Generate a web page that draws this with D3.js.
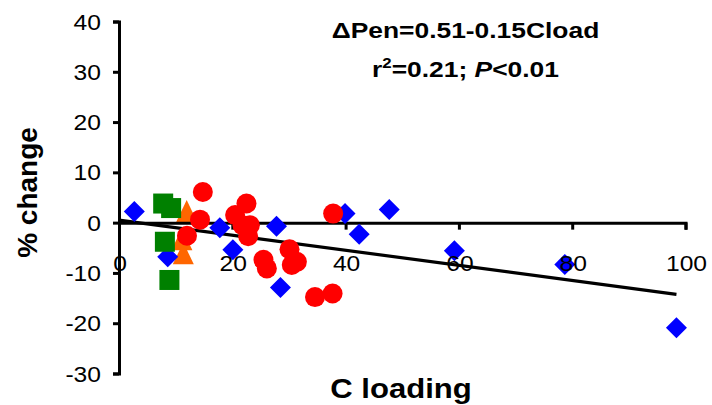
<!DOCTYPE html>
<html>
<head>
<meta charset="utf-8">
<script src="https://cdn.jsdelivr.net/npm/d3@7"></script>
<style>
  body { margin: 0; background: #fff; }
  svg { display: block; font-family: "Liberation Sans", Arial, sans-serif; }
</style>
</head>
<body>
<div id="chart"></div>
<script>
// C loading (x) vs % change (y), one array pair per marker series
const blueX = [2.7, 8.6, 17.8, 20.1, 27.8, 28.5, 39.9, 42.4, 47.7, 59.2, 78.7, 98.4];
const blueY = [2.2, -6.8, -1.0, -5.4, -0.7, -12.9, 1.8, -2.3, 2.6, -5.6, -8.3, -20.9];

const greenX = [7.8, 9.2, 8.1, 8.9];
const greenY = [3.8, 2.9, -3.8, -11.4];

const orangeX = [11.95, 11.1, 11.35];
const orangeY = [2.3, -3.3, -6.1];

const redX = [14.8, 14.3, 12.0, 22.5, 20.5, 21.8, 23.1, 22.8, 25.5, 26.1, 30.1, 31.4, 30.5, 34.6, 37.7, 37.8];
const redY = [6.1, 0.6, -2.6, 3.8, 1.5, -0.5, -0.5, -2.7, -7.4, -9.1, -5.3, -7.8, -8.4, -14.8, -14.1, 1.8];

// regression: dPen = 0.51 - 0.15 * Cload
const fitIntercept = 0.51;
const fitSlope = -0.15;
const fitRange = [0, 98.4];

const xTicks = [0, 20, 40, 60, 80, 100];
const yTicks = [-30, -20, -10, 0, 10, 20, 30, 40];

const width = 712, height = 405;
const margin = { top: 21.5, right: 26.5, bottom: 31.5, left: 119 };

const x = d3.scaleLinear().domain([0, 100]).range([margin.left, width - margin.right]);
const y = d3.scaleLinear().domain([-30, 40]).range([height - margin.bottom, margin.top]);

const svg = d3.select('#chart')
    .append('svg')
    .attr('width', width)
    .attr('height', height);

const zip = (xs, ys) => xs.map((v, i) => ({ x: v, y: ys[i] }));

// triangles sit underneath the axis lines in the original
const tri = 'M0,-11L10.5,11L-10.5,11Z';
svg.append('g')
    .selectAll('path')
    .data(zip(orangeX, orangeY))
    .join('path')
    .attr('d', tri)
    .attr('transform', d => `translate(${x(d.x)},${y(d.y)})`)
    .style('fill', '#FF6600');

// Y axis
const yAxis = svg.append('g')
    .attr('transform', `translate(${x(0)},0)`)
    .call(d3.axisLeft(y).tickValues(yTicks).tickSize(6).tickSizeOuter(6));

// X axis through y = 0
const xAxis = svg.append('g')
    .attr('transform', `translate(0,${y(0)})`)
    .call(d3.axisBottom(x).tickValues(xTicks).tickSize(7).tickSizeOuter(7));

[yAxis, xAxis].forEach(g => {
    g.select('.domain').attr('stroke', '#000').attr('stroke-width', 3);
    g.selectAll('.tick line').attr('stroke', '#000').attr('stroke-width', 3);
    g.selectAll('.tick text').remove();
});

// trend line
svg.append('line')
    .attr('x1', x(fitRange[0]))
    .attr('y1', y(fitIntercept + fitSlope * fitRange[0]))
    .attr('x2', x(fitRange[1]))
    .attr('y2', y(fitIntercept + fitSlope * fitRange[1]))
    .attr('stroke', '#000')
    .attr('stroke-width', 3.2);

// diamonds
const diamond = 'M0,-10.5L10.5,0L0,10.5L-10.5,0Z';
svg.append('g')
    .selectAll('path')
    .data(zip(blueX, blueY))
    .join('path')
    .attr('d', diamond)
    .attr('transform', d => `translate(${x(d.x)},${y(d.y)})`)
    .style('fill', '#0000FF');

// squares
svg.append('g')
    .selectAll('rect')
    .data(zip(greenX, greenY))
    .join('rect')
    .attr('x', d => x(d.x) - 10)
    .attr('y', d => y(d.y) - 10)
    .attr('width', 20)
    .attr('height', 20)
    .style('fill', '#008000');

// circles
svg.append('g')
    .selectAll('circle')
    .data(zip(redX, redY))
    .join('circle')
    .attr('cx', d => x(d.x))
    .attr('cy', d => y(d.y))
    .attr('r', 10)
    .style('fill', '#FF0000');

// tick labels (text in the source is a bit wide, so stretch it)
svg.append('g')
    .selectAll('text')
    .data(yTicks)
    .join('text')
    .attr('transform', d => `translate(${x(0) - 18},${y(d) + 8}) scale(1.12,1)`)
    .attr('text-anchor', 'end')
    .style('font-size', '22px')
    .text(d => d);

svg.append('g')
    .selectAll('text')
    .data(xTicks)
    .join('text')
    .attr('transform', d => `translate(${x(d) + 1},${y(0) + 48.5}) scale(1.12,1)`)
    .attr('text-anchor', 'middle')
    .style('font-size', '22px')
    .text(d => d);

// axis titles
svg.append('text')
    .attr('transform', 'translate(37,192.5) rotate(-90)')
    .attr('text-anchor', 'middle')
    .style('font-size', '28px')
    .style('font-weight', 'bold')
    .text('% change');

svg.append('text')
    .attr('transform', 'translate(401,398) scale(1.11,1)')
    .attr('text-anchor', 'middle')
    .style('font-size', '28px')
    .style('font-weight', 'bold')
    .text('C loading');

// equation
svg.append('text')
    .attr('transform', 'translate(465.5,38.3) scale(1.2,1)')
    .attr('text-anchor', 'middle')
    .style('font-size', '22px')
    .style('font-weight', 'bold')
    .text('\u0394Pen=0.51-0.15Cload');

const stats = svg.append('text')
    .attr('transform', 'translate(465.5,76.5) scale(1.2,1)')
    .attr('text-anchor', 'middle')
    .style('font-size', '22px')
    .style('font-weight', 'bold');
stats.append('tspan').text('r');
stats.append('tspan').attr('dy', -9).style('font-size', '14px').text('2');
stats.append('tspan').attr('dy', 9).text('=0.21; ');
stats.append('tspan').style('font-style', 'italic').text('P');
stats.append('tspan').text('<0.01');
</script>
</body>
</html>
